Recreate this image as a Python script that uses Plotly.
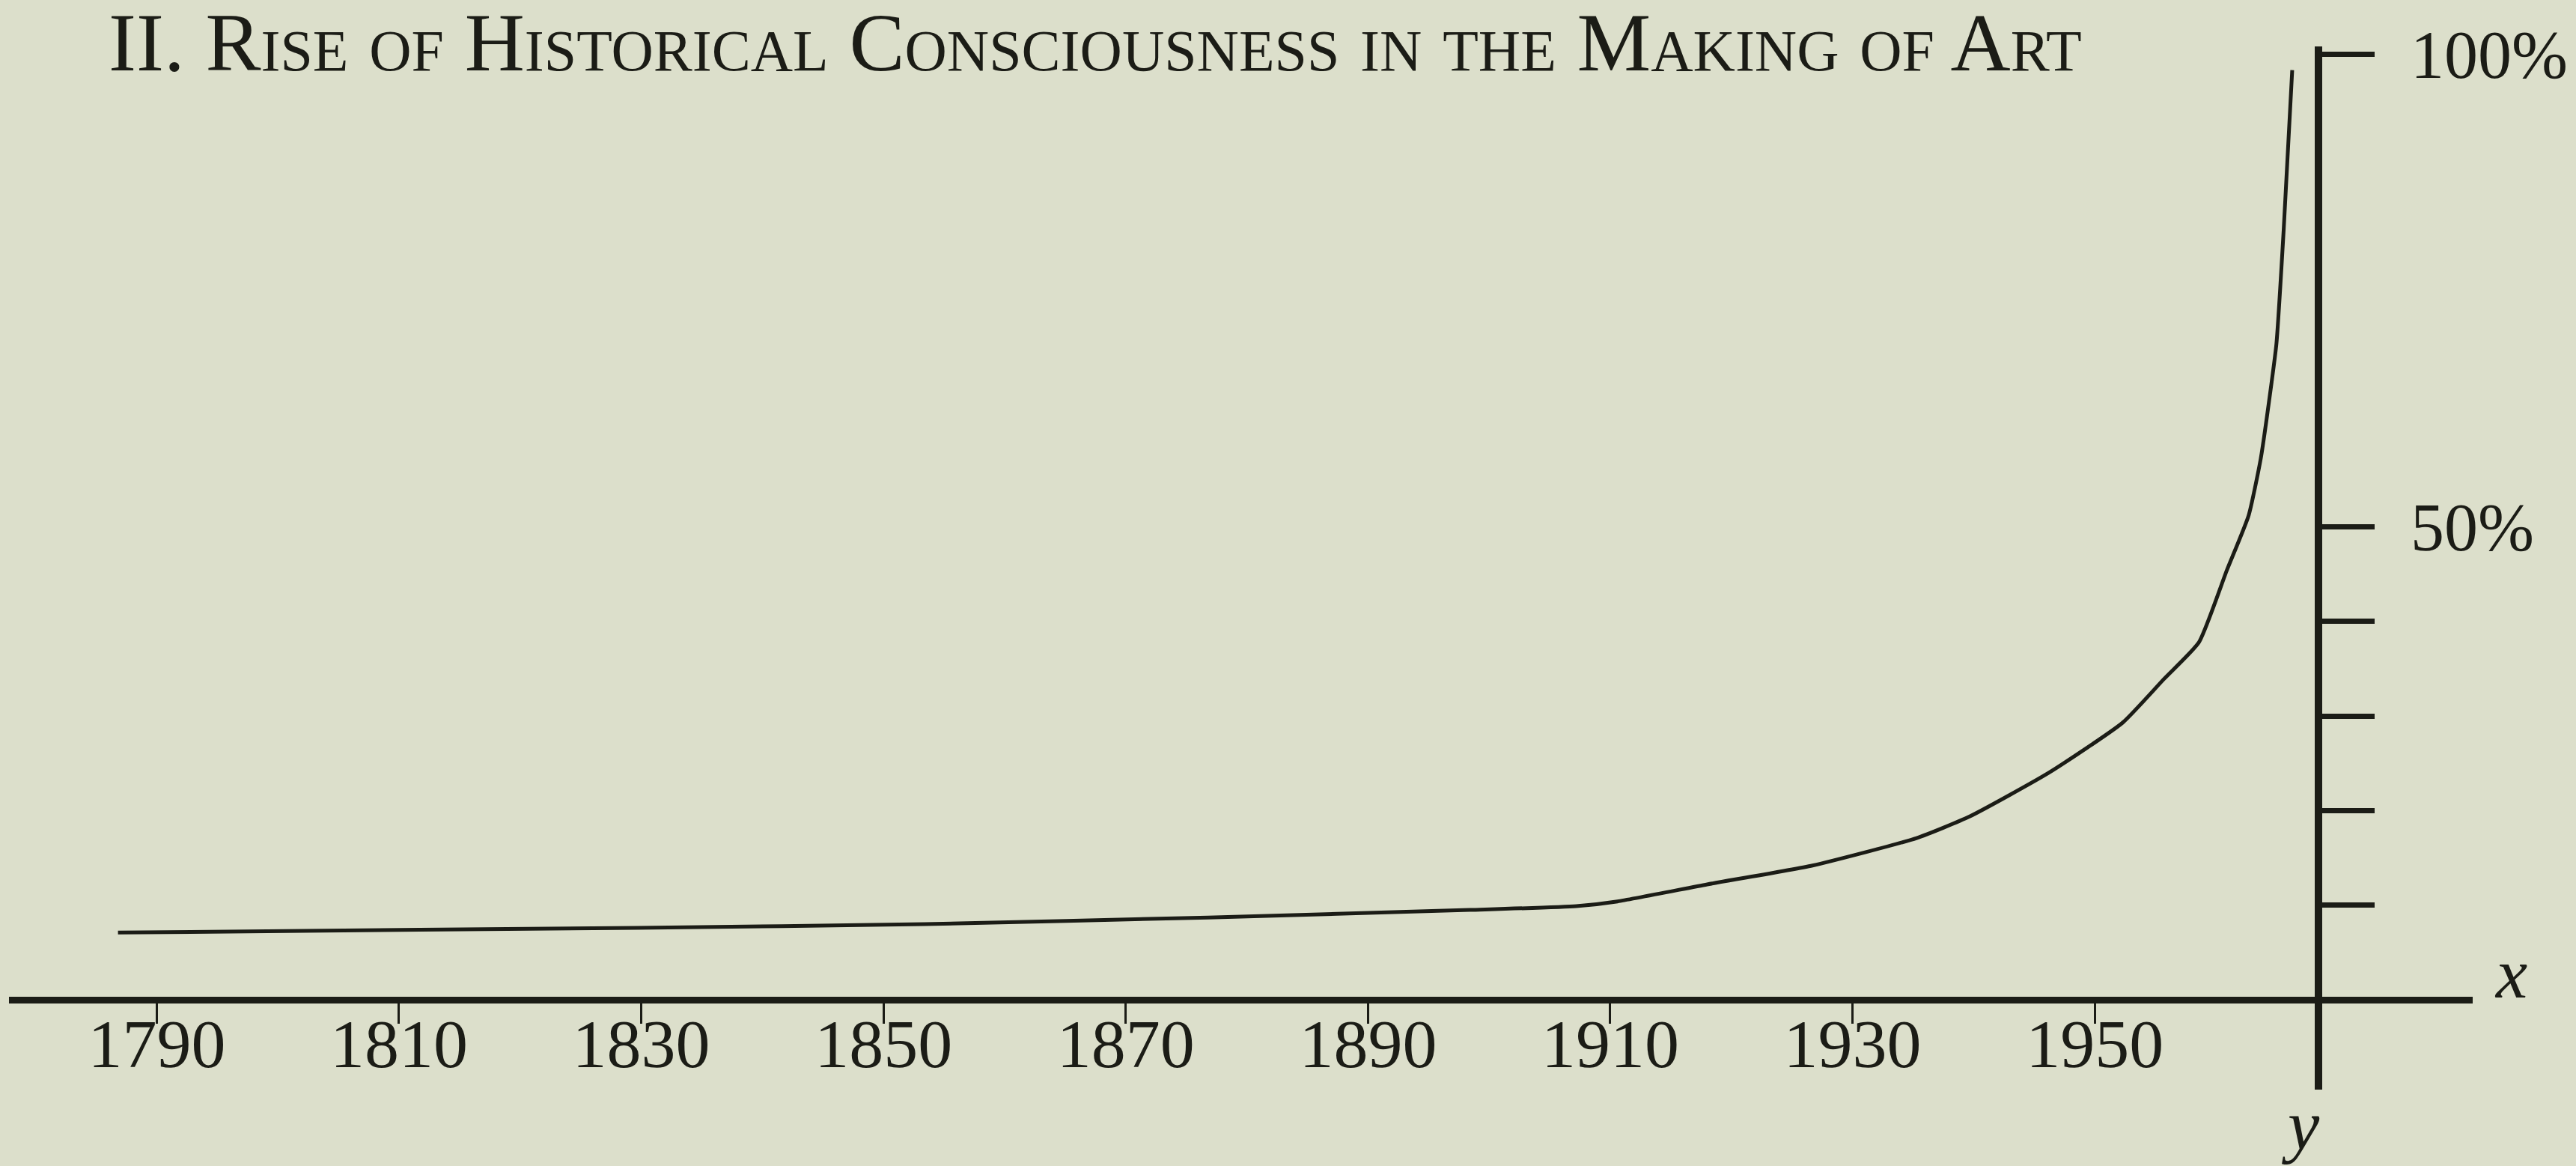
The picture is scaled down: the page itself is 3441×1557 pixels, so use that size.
import plotly.graph_objects as go

# ---- data ----
years = [1786.8, 1811.7, 1829.7, 1853.4, 1876.8, 1898.4, 1907.2, 1910.6, 1918.0,
         1926.7, 1935.3, 1939.7, 1946.2, 1952.3, 1955.7, 1958.6, 1960.9, 1962.7,
         1963.7, 1964.6, 1965.0, 1965.6, 1966.3]
share_pct = [7.1, 7.4, 7.6, 8.0, 8.7, 9.5, 9.9, 10.4, 12.2,
             14.2, 17.1, 19.4, 24.0, 29.3, 33.9, 37.8, 45.4, 51.2,
             57.2, 65.3, 69.4, 81.5, 98.3]

x_tick_vals = [1790, 1810, 1830, 1850, 1870, 1890, 1910, 1930, 1950]
x_tick_text = ["1790", "1810", "1830", "1850", "1870", "1890", "1910", "1930", "1950"]
y_tick_vals = [10, 20, 30, 40, 50, 100]
y_tick_text = ["", "", "", "", "50%", "100%"]

title_text = "II. Rise of Historical Consciousness in the Making of Art"

# ---- styling ----
W, H = 3441, 1557
BG = "#dcdfcb"
INK = "#1b1c16"
SERIF = "Liberation Serif, Times New Roman, serif"

fig = go.Figure()
fig.add_trace(go.Scatter(
    x=years, y=share_pct, mode="lines",
    line=dict(color=INK, width=5, shape="spline", smoothing=0.5),
    hoverinfo="skip", showlegend=False,
))

fig.update_layout(
    width=W, height=H,
    margin=dict(l=0, r=0, t=0, b=0, pad=0),
    paper_bgcolor=BG, plot_bgcolor=BG,
    template="none",
    showlegend=False,
    xaxis=dict(
        domain=[12 / W, 3303 / W],
        range=[1777.8, 1981.2],
        anchor="free", position=1 - 1335 / H,
        showline=True, linewidth=9, linecolor=INK,
        ticks="outside", ticklen=27, tickwidth=3, tickcolor=INK,
        tickvals=x_tick_vals, ticktext=x_tick_text,
        tickfont=dict(family=SERIF, size=92, color=INK),
        ticklabelstandoff=-52,
        showgrid=False, zeroline=False, automargin=False,
    ),
    yaxis=dict(
        domain=[1 - 1455 / H, 1 - 62 / H],
        range=[-9.5, 100.8],
        anchor="free", position=3097 / W, side="right",
        showline=True, linewidth=10, linecolor=INK,
        ticks="outside", ticklen=70, tickwidth=7, tickcolor=INK,
        tickvals=y_tick_vals, ticktext=y_tick_text,
        tickfont=dict(family=SERIF, size=90, color=INK),
        ticklabelstandoff=30,
        showgrid=False, zeroline=False, automargin=False,
    ),
    annotations=[
        dict(text=title_text, xref="paper", yref="paper",
             x=143 / W, y=1 - 120 / H, xanchor="left", yanchor="bottom",
             showarrow=False,
             font=dict(family=SERIF, size=111, color=INK, variant="small-caps")),
        dict(text="<i>x</i>", xref="paper", yref="paper",
             x=3354 / W, y=1 - 1300 / H, xanchor="center", yanchor="middle",
             showarrow=False, font=dict(family=SERIF, size=95, color=INK)),
        dict(text="<i>y</i>", xref="paper", yref="paper",
             x=3073 / W, y=1 - 1448 / H, xanchor="center", yanchor="top",
             showarrow=False, font=dict(family=SERIF, size=95, color=INK)),
    ],
)

fig.write_html(
    "out.html",
    config={"displayModeBar": False},
    post_script="document.body.style.margin='0';document.body.style.overflow='hidden';"
                "document.body.style.background='%s';" % BG,
)
